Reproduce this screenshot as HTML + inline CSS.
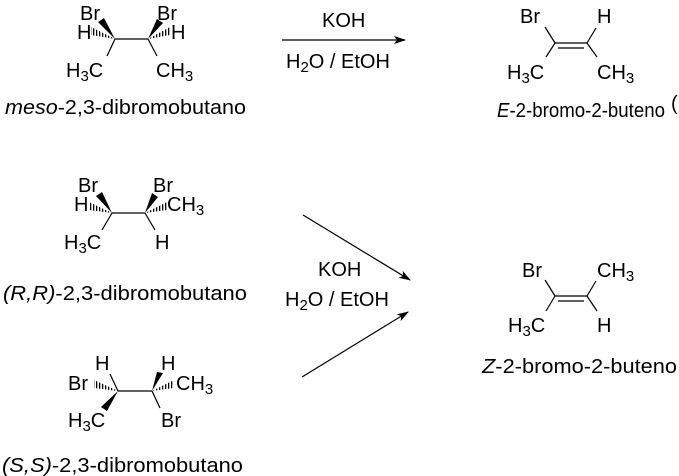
<!DOCTYPE html>
<html><head><style>html,body{margin:0;padding:0;background:#fff}svg{display:block}text{font-family:"Liberation Sans",Arial,sans-serif;font-size:20px;fill:#000}</style></head>
<body>
<svg width="679" height="476" viewBox="0 0 679 476" xmlns="http://www.w3.org/2000/svg">
<defs>
<pattern id="h" width="3" height="3" patternUnits="userSpaceOnUse"><rect width="1.3" height="3" fill="#000"/></pattern>
<marker id="ar" markerWidth="12" markerHeight="8" refX="11" refY="4" orient="auto" markerUnits="userSpaceOnUse"><path d="M0,0 L12,4 L0,8 L3,4z" fill="#000"/></marker>
</defs>
<g stroke="#000" stroke-width="1.2" fill="none">
<line x1="115" y1="39" x2="148" y2="39"/>
<line x1="115" y1="39" x2="107" y2="56"/>
<line x1="148" y1="39" x2="157" y2="56"/>
<line x1="112" y1="213" x2="145" y2="213"/>
<line x1="112" y1="213" x2="102" y2="230"/>
<line x1="145" y1="213" x2="155" y2="230"/>
<line x1="118" y1="391" x2="152" y2="391"/>
<line x1="118" y1="391" x2="110" y2="374"/>
<line x1="152" y1="391" x2="160" y2="408"/>
<line x1="555" y1="43" x2="587" y2="43"/>
<line x1="558" y1="48" x2="584" y2="48"/>
<line x1="555" y1="43" x2="545" y2="27"/>
<line x1="555" y1="43" x2="546" y2="57"/>
<line x1="587" y1="43" x2="596" y2="28"/>
<line x1="587" y1="43" x2="597" y2="57"/>
<line x1="555" y1="296" x2="587" y2="296"/>
<line x1="558" y1="301" x2="584" y2="301"/>
<line x1="555" y1="296" x2="545" y2="280"/>
<line x1="555" y1="296" x2="546" y2="311"/>
<line x1="587" y1="296" x2="596" y2="281"/>
<line x1="587" y1="296" x2="597" y2="311"/>
<line x1="282" y1="40" x2="405" y2="40" marker-end="url(#ar)"/>
<line x1="303" y1="215" x2="410" y2="280" marker-end="url(#ar)"/>
<line x1="302" y1="377" x2="408" y2="312" marker-end="url(#ar)"/>
</g>
<g fill="#000">
<polygon points="115,39 98,22 104,18"/>
<polygon points="148,39 157,19 163,23"/>
<polygon points="112,213 96,196 102,192"/>
<polygon points="145,213 152,193 158,197"/>
<polygon points="118,391 101,407 107,411"/>
<polygon points="152,391 157,372 163,373"/>
</g>
<g fill="url(#h)">
<polygon points="115,39 91,27 91,35"/>
<polygon points="148,39 170,27 170,35"/>
<polygon points="112,213 89,202 89,210"/>
<polygon points="145,213 167,202 167,210"/>
<polygon points="118,391 94,380 94,388"/>
<polygon points="152,391 174,380 174,388"/>
</g>
<text x="80" y="20">Br</text><text x="157" y="20">Br</text>
<text x="77" y="39">H</text><text x="171" y="39">H</text>
<text x="66" y="77">H<tspan font-size="15" dy="4">3</tspan><tspan dy="-4">C</tspan></text>
<text x="156" y="77">CH<tspan font-size="15" dy="4">3</tspan></text>
<text x="5" y="114" textLength="241" lengthAdjust="spacingAndGlyphs"><tspan font-style="italic">meso</tspan>-2,3-dibromobutano</text>
<text x="78" y="192">Br</text><text x="153" y="192">Br</text>
<text x="74" y="211">H</text><text x="167" y="211">CH<tspan font-size="15" dy="4">3</tspan></text>
<text x="64" y="249">H<tspan font-size="15" dy="4">3</tspan><tspan dy="-4">C</tspan></text>
<text x="155" y="249">H</text>
<text x="3" y="300" textLength="244" lengthAdjust="spacingAndGlyphs"><tspan font-style="italic">(R,R)</tspan>-2,3-dibromobutano</text>
<text x="95" y="370">H</text><text x="161" y="370">H</text>
<text x="68" y="390">Br</text><text x="176" y="390">CH<tspan font-size="15" dy="4">3</tspan></text>
<text x="68" y="427">H<tspan font-size="15" dy="4">3</tspan><tspan dy="-4">C</tspan></text>
<text x="161" y="427">Br</text>
<text x="2" y="472" textLength="241" lengthAdjust="spacingAndGlyphs"><tspan font-style="italic">(S,S)</tspan>-2,3-dibromobutano</text>
<text x="322" y="27">KOH</text>
<text x="286" y="68">H<tspan font-size="15" dy="4">2</tspan><tspan dy="-4">O / EtOH</tspan></text>
<text x="318" y="276">KOH</text>
<text x="285" y="306">H<tspan font-size="15" dy="4">2</tspan><tspan dy="-4">O / EtOH</tspan></text>
<text x="520" y="23">Br</text><text x="597" y="23">H</text>
<text x="507" y="79">H<tspan font-size="15" dy="4">3</tspan><tspan dy="-4">C</tspan></text>
<text x="597" y="79">CH<tspan font-size="15" dy="4">3</tspan></text>
<text x="497" y="117" textLength="168" lengthAdjust="spacingAndGlyphs"><tspan font-style="italic">E</tspan>-2-bromo-2-buteno</text>
<text x="671" y="110" font-size="14">(</text>
<text x="522" y="277">Br</text><text x="597" y="277">CH<tspan font-size="15" dy="4">3</tspan></text>
<text x="508" y="332">H<tspan font-size="15" dy="4">3</tspan><tspan dy="-4">C</tspan></text>
<text x="597" y="332">H</text>
<text x="482" y="373" textLength="195" lengthAdjust="spacingAndGlyphs"><tspan font-style="italic">Z</tspan>-2-bromo-2-buteno</text>
</svg>
</body></html>
